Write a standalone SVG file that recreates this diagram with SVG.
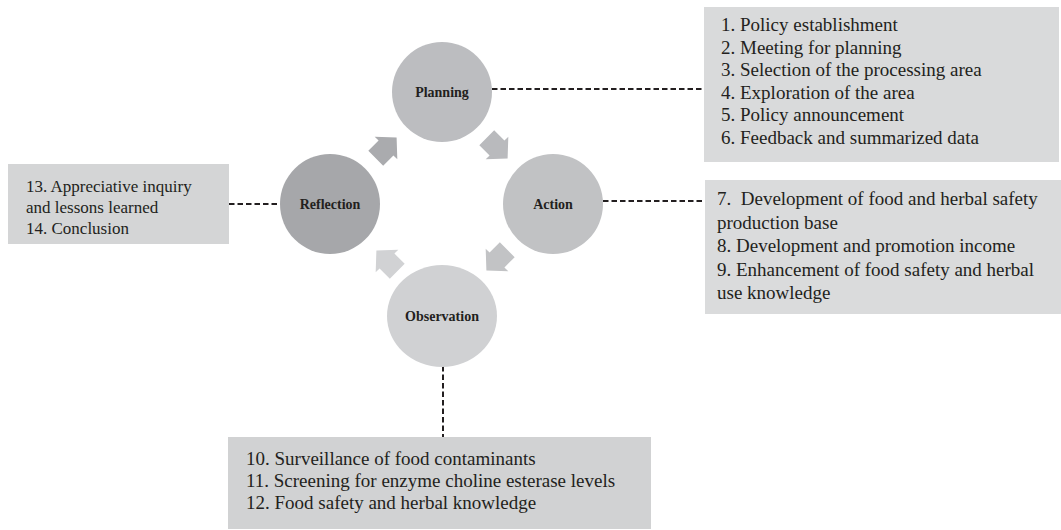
<svg xmlns="http://www.w3.org/2000/svg" width="1061" height="530" viewBox="0 0 1061 530">
  <style>
    .box { stroke: none; }
    .item { font-family: "Liberation Serif", "Times New Roman", serif; font-size: 19px; fill: #231f20; }
    .small { font-size: 17px; }
    .label { font-family: "Liberation Serif", "Times New Roman", serif; font-size: 14px; font-weight: bold; fill: #231f20; text-anchor: middle; }
    .link { fill: none; stroke: #231f20; stroke-width: 2; stroke-dasharray: 5.5 3; }
  </style>
  <defs>
    <!-- block arrow pointing along +x, centred on its origin -->
    <polygon id="cycle-arrow" points="-14.5,-10.5 0,-10.5 0,-16 15,0 0,16 0,10.5 -14.5,10.5"/>
  </defs>
  <rect width="1061" height="530" fill="#ffffff"/>

  <!-- dashed links from each stage to its task list -->
  <g id="connectors">
    <line class="link" x1="492" y1="89" x2="704" y2="89"/>
    <line class="link" x1="603" y1="201" x2="705" y2="201"/>
    <line class="link" x1="229" y1="204" x2="280" y2="204"/>
    <line class="link" x1="443" y1="366" x2="443" y2="437"/>
  </g>

  <!-- cycle arrows between stages -->
  <g id="cycle-arrows">
    <use href="#cycle-arrow" transform="translate(386,148) rotate(-45)" fill="#aaabae"/>
    <use href="#cycle-arrow" transform="translate(497,148) rotate(45)" fill="#b9babd"/>
    <use href="#cycle-arrow" transform="translate(497,260) rotate(135)" fill="#c2c3c5"/>
    <use href="#cycle-arrow" transform="translate(387,261) rotate(-135)" fill="#d1d2d4"/>
  </g>

  <g id="planning">
    <circle cx="442" cy="92" r="50" fill="#bcbdc0"/>
    <text class="label" x="442" y="97">Planning</text>
  </g>
  <g id="action">
    <circle cx="553" cy="204" r="50" fill="#c1c2c4"/>
    <text class="label" x="553" y="209">Action</text>
  </g>
  <g id="observation">
    <ellipse cx="442" cy="316" rx="55" ry="51" fill="#d0d1d3"/>
    <text class="label" x="442" y="321">Observation</text>
  </g>
  <g id="reflection">
    <circle cx="330" cy="204" r="50" fill="#a6a7aa"/>
    <text class="label" x="330" y="209">Reflection</text>
  </g>

  <g id="planning-tasks">
    <rect class="box" x="704" y="7" width="355" height="155" fill="#d9dadb"/>
    <text class="item" x="721" y="31">1. Policy establishment</text>
    <text class="item" x="721" y="53.5">2. Meeting for planning</text>
    <text class="item" x="721" y="76">3. Selection of the processing area</text>
    <text class="item" x="721" y="98.5">4. Exploration of the area</text>
    <text class="item" x="721" y="121">5. Policy announcement</text>
    <text class="item" x="721" y="143.5">6. Feedback and summarized data</text>
  </g>
  <g id="action-tasks">
    <rect class="box" x="705" y="180" width="356" height="134" fill="#dadbdc"/>
    <text class="item" x="717" y="205" xml:space="preserve">7.  Development of food and herbal safety</text>
    <text class="item" x="717" y="228.5">production base</text>
    <text class="item" x="717" y="252">8. Development and promotion income</text>
    <text class="item" x="717" y="275.5">9. Enhancement of food safety and herbal</text>
    <text class="item" x="717" y="299">use knowledge</text>
  </g>
  <g id="reflection-tasks">
    <rect class="box" x="8" y="164" width="221" height="80" fill="#d4d5d6"/>
    <text class="item small" x="26" y="192">13. Appreciative inquiry</text>
    <text class="item small" x="26" y="213">and lessons learned</text>
    <text class="item small" x="26" y="234">14. Conclusion</text>
  </g>
  <g id="observation-tasks">
    <rect class="box" x="228" y="437" width="423" height="92" fill="#d1d2d3"/>
    <text class="item" x="246" y="465">10. Surveillance of food contaminants</text>
    <text class="item" x="246" y="487">11. Screening for enzyme choline esterase levels</text>
    <text class="item" x="246" y="509">12. Food safety and herbal knowledge</text>
  </g>
</svg>
